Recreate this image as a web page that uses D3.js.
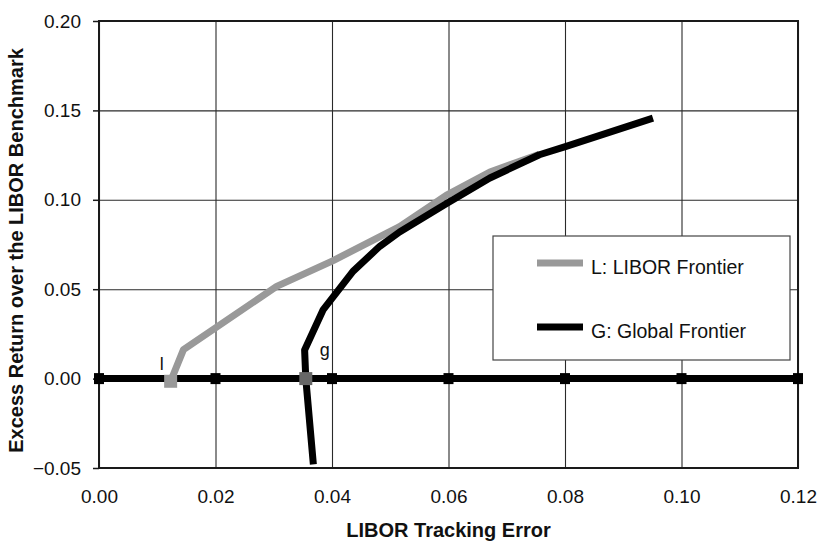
<!DOCTYPE html>
<html>
<head>
<meta charset="utf-8">
<script src="https://cdn.jsdelivr.net/npm/d3@7"></script>
<style>
  html, body { margin: 0; padding: 0; background: #fff; }
  svg { display: block; }
  text { font-family: "Liberation Sans", Arial, sans-serif; fill: #111; }
</style>
</head>
<body>
<svg id="chart" width="819" height="544"></svg>
<script>
// Tick values for both axes
const xTicks = [0.00, 0.02, 0.04, 0.06, 0.08, 0.10, 0.12];
const yTicks = [-0.05, 0.00, 0.05, 0.10, 0.15, 0.20];

// LIBOR frontier: [tracking error, excess return]
const liborFrontier = [
  [0.0123, -0.0015], [0.0145, 0.0162], [0.0305, 0.0516], [0.0402, 0.0660],
  [0.0516, 0.0850], [0.0596, 0.1025], [0.0671, 0.1155], [0.0756, 0.1255]
];

// Global frontier: [tracking error, excess return]
const globalFrontier = [
  [0.0368, -0.0480], [0.0355, 0.0000], [0.0353, 0.0160], [0.0385, 0.0386],
  [0.0436, 0.0600], [0.0482, 0.0740], [0.0516, 0.0820], [0.0596, 0.0978],
  [0.0671, 0.1122], [0.0756, 0.1252], [0.0802, 0.1299], [0.0951, 0.1457]
];

// Minimum tracking-error portfolios on each frontier
const minPoints = [
  { label: "l", x: 0.0123, y: -0.0015, fill: "#999999" },
  { label: "g", x: 0.0355, y: 0.0000, fill: "#666666" }
];

const legendItems = [
  { name: "L: LIBOR Frontier", color: "#999999" },
  { name: "G: Global Frontier", color: "#000000" }
];

const svg = d3.select("#chart");
const m = { left: 99, right: 798, top: 21, bottom: 468 };

const x = d3.scaleLinear().domain([0, 0.12]).range([m.left, m.right]);
const y = d3.scaleLinear().domain([-0.05, 0.20]).range([m.bottom, m.top]);

// vertical gridlines
svg.append("g")
  .attr("transform", `translate(0,${m.bottom})`)
  .call(d3.axisBottom(x).tickValues(xTicks).tickSize(-(m.bottom - m.top)).tickFormat(""))
  .call(g => g.select(".domain").remove())
  .call(g => g.selectAll("line").attr("stroke", "#2a2a2a").attr("stroke-width", 1.1));

// horizontal gridlines
svg.append("g")
  .attr("transform", `translate(${m.left},0)`)
  .call(d3.axisLeft(y).tickValues(yTicks).tickSize(-(m.right - m.left)).tickFormat(""))
  .call(g => g.select(".domain").remove())
  .call(g => g.selectAll("line").attr("stroke", "#2a2a2a").attr("stroke-width", 1.1));

// plot frame
svg.append("rect")
  .attr("x", m.left).attr("y", m.top)
  .attr("width", m.right - m.left).attr("height", m.bottom - m.top)
  .attr("fill", "none").attr("stroke", "#1a1a1a").attr("stroke-width", 2);

// y axis ticks and labels
const yAxis = svg.append("g")
  .attr("transform", `translate(${m.left},0)`)
  .call(d3.axisLeft(y).tickValues(yTicks).tickSize(6).tickPadding(12).tickFormat(d3.format(".2f")));
yAxis.select(".domain").remove();
yAxis.selectAll("line").attr("stroke", "#1a1a1a").attr("stroke-width", 1.5);
yAxis.selectAll("text")
  .attr("font-size", 19).attr("font-family", "Liberation Sans, Arial, sans-serif").attr("fill", "#111");

// x axis labels
const xAxis = svg.append("g")
  .attr("transform", `translate(0,${m.bottom})`)
  .call(d3.axisBottom(x).tickValues(xTicks).tickSize(0).tickPadding(22).tickFormat(d3.format(".2f")));
xAxis.select(".domain").remove();
xAxis.selectAll("text")
  .attr("font-size", 19).attr("font-family", "Liberation Sans, Arial, sans-serif").attr("fill", "#111");

// legend box
const legendBox = { x0: 493, y0: 236, x1: 790, y1: 360 };
svg.append("rect")
  .attr("x", legendBox.x0).attr("y", legendBox.y0)
  .attr("width", legendBox.x1 - legendBox.x0).attr("height", legendBox.y1 - legendBox.y0)
  .attr("fill", "#fff").attr("stroke", "#444").attr("stroke-width", 1.2);

const legend = svg.append("g").selectAll("g").data(legendItems).join("g")
  .attr("transform", (d, i) => `translate(0,${263 + i * 64})`);
legend.append("line")
  .attr("x1", 537).attr("x2", 583).attr("y1", 0).attr("y2", 0)
  .attr("stroke", d => d.color).attr("stroke-width", 7);
legend.append("text")
  .attr("x", 591).attr("y", 10.5)
  .attr("font-size", 19.5)
  .text(d => d.name);

// zero-return line with square markers
svg.append("line")
  .attr("x1", x(0)).attr("x2", x(0.12)).attr("y1", y(0)).attr("y2", y(0))
  .attr("stroke", "#000").attr("stroke-width", 7);
svg.append("g").selectAll("rect").data(xTicks).join("rect")
  .attr("x", d => x(d) - 5).attr("y", y(0) - 5.5)
  .attr("width", 10).attr("height", 11)
  .attr("fill", "#000");

// frontier curves
const line = d3.line().x(d => x(d[0])).y(d => y(d[1]));
svg.append("path").datum(liborFrontier)
  .attr("d", line).attr("fill", "none")
  .attr("stroke", "#999999").attr("stroke-width", 7).attr("stroke-linejoin", "round");
svg.append("path").datum(globalFrontier)
  .attr("d", line).attr("fill", "none")
  .attr("stroke", "#000").attr("stroke-width", 7).attr("stroke-linejoin", "round");

// minimum tracking-error markers and labels
svg.append("g").selectAll("rect").data(minPoints).join("rect")
  .attr("x", d => x(d.x) - 6.5).attr("y", d => y(d.y) - 6.5)
  .attr("width", 13).attr("height", 13)
  .attr("fill", d => d.fill);
svg.append("text").attr("x", x(minPoints[0].x) - 11).attr("y", y(0) - 9)
  .attr("font-size", 18).text(minPoints[0].label);
svg.append("text").attr("x", x(minPoints[1].x) + 14).attr("y", y(0) - 23)
  .attr("font-size", 18).text(minPoints[1].label);

// axis titles
svg.append("text")
  .attr("x", (m.left + m.right) / 2).attr("y", 537)
  .attr("text-anchor", "middle").attr("font-size", 20).attr("font-weight", "bold")
  .text("LIBOR Tracking Error");
svg.append("text")
  .attr("transform", `translate(23,${(m.top + m.bottom) / 2 + 6}) rotate(-90)`)
  .attr("text-anchor", "middle").attr("font-size", 20).attr("font-weight", "bold")
  .text("Excess Return over the LIBOR Benchmark");
</script>
</body>
</html>
